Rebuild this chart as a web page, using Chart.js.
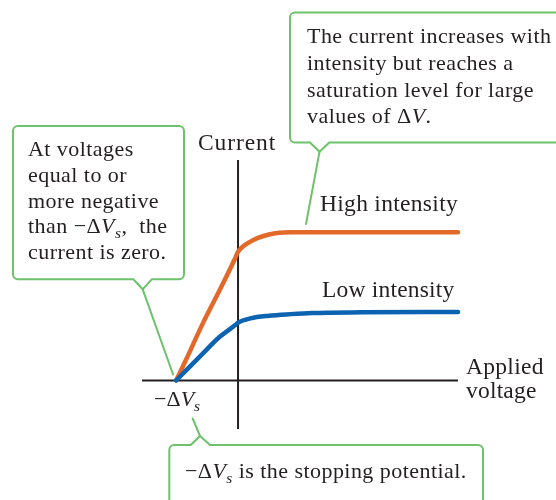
<!DOCTYPE html>
<html>
<head>
<meta charset="utf-8">
<script src="https://cdn.jsdelivr.net/npm/chart.js@4.4.1/dist/chart.umd.min.js"></script>
<style>
  html, body { margin: 0; padding: 0; background: #ffffff; }
  #wrap { position: relative; width: 556px; height: 500px; }
</style>
</head>
<body>
<div id="wrap"><canvas id="c" width="556" height="500"></canvas></div>
<script>
// ---- data ----
const voltage = [-1, -0.83, -0.57, -0.3, -0.05, 0, 0.2, 0.5, 0.85, 1.2, 2.0, 3.55];
const highIntensity = [0, 1.0, 2.58, 4.08, 5.52, 5.84, 6.3, 6.62, 6.72, 6.72, 6.72, 6.72];
const lowIntensity  = [0, 0.48, 1.22, 1.97, 2.5, 2.62, 2.82, 2.94, 3.01, 3.06, 3.09, 3.11];
const xRange = [-1.55, 3.55];
const yRange = [-2.2, 10];
const seriesNames = ['High intensity', 'Low intensity'];
const axisTitles = { y: 'Current', x: ['Applied', 'voltage'] };

const ORANGE = '#E2692A';
const BLUE = '#0B63B2';
const GREEN = '#6DC26B';
const INK = '#231F20';
const FONT = '"Liberation Serif", "Times New Roman", serif';

const toPts = (xs, ys) => xs.map((x, i) => ({ x: x, y: ys[i] }));

function drawRuns(ctx, x, y, runs, size, ls) {
  ctx.save();
  ctx.fillStyle = INK;
  ctx.textBaseline = 'alphabetic';
  ctx.textAlign = 'left';
  ctx.letterSpacing = (ls || 0) + 'px';
  for (const r of runs) {
    const t = r[0], k = r[1] || 'n';
    const sz = k === 's' ? size * 0.7 : size;
    ctx.font = (k === 'i' || k === 's' ? 'italic ' : '') + sz + 'px ' + FONT;
    const dy = k === 's' ? size * 0.22 : 0;
    ctx.fillText(t, x, y + dy);
    x += ctx.measureText(t).width;
  }
  ctx.restore();
}

function callout(ctx, l, t, r, b, rad, notch, target) {
  ctx.save();
  ctx.beginPath();
  ctx.moveTo(l + rad, t);
  if (notch.edge === 'top') {
    ctx.lineTo(notch.x1, t);
    ctx.lineTo(notch.tx, notch.ty);
    ctx.lineTo(notch.x2, t);
  }
  ctx.lineTo(r - rad, t);
  ctx.arcTo(r, t, r, t + rad, rad);
  ctx.lineTo(r, b - rad);
  ctx.arcTo(r, b, r - rad, b, rad);
  if (notch.edge === 'bottom') {
    ctx.lineTo(notch.x2, b);
    ctx.lineTo(notch.tx, notch.ty);
    ctx.lineTo(notch.x1, b);
  }
  ctx.lineTo(l + rad, b);
  ctx.arcTo(l, b, l, b - rad, rad);
  ctx.lineTo(l, t + rad);
  ctx.arcTo(l, t, l + rad, t, rad);
  ctx.closePath();
  ctx.fillStyle = '#ffffff';
  ctx.fill();
  ctx.strokeStyle = GREEN;
  ctx.lineWidth = 2;
  ctx.lineJoin = 'round';
  ctx.stroke();
  ctx.beginPath();
  ctx.moveTo(notch.tx, notch.ty);
  ctx.lineTo(target[0], target[1]);
  ctx.lineCap = 'round';
  ctx.stroke();
  ctx.restore();
}

const annotations = {
  id: 'annotations',
  afterDatasetsDraw(chart) {
    const ctx = chart.ctx;
    const xs = chart.scales.x, ys = chart.scales.y;
    const px = v => xs.getPixelForValue(v);
    const py = v => ys.getPixelForValue(v);

    // axis labels & series labels
    const L = 23.5;
    drawRuns(ctx, 198, 150, [[axisTitles.y]], L, 0.9);
    drawRuns(ctx, 320, 211, [[seriesNames[0]]], L, 0.3);
    drawRuns(ctx, 322, 297, [[seriesNames[1]]], L, 0.2);
    drawRuns(ctx, 466, 374, [[axisTitles.x[0]]], L, 0.3);
    drawRuns(ctx, 466, 398, [[axisTitles.x[1]]], L, 0.2);
    drawRuns(ctx, px(-1) - 22, py(0) + 26, [['\u2212\u0394'], ['V', 'i'], ['s', 's']], 22, 0);

    const S = 22, LS = 0.45;
    // left callout
    callout(ctx, 13, 126, 184, 279.3, 5,
      { edge: 'bottom', x1: 133.3, x2: 151.7, tx: 142.7, ty: 289.3 },
      [px(-1) - 3, py(0) - 6]);
    const lx = 28, ly = 156, st = 25.8;
    drawRuns(ctx, lx, ly, [['At voltages']], S, LS);
    drawRuns(ctx, lx, ly + st, [['equal to or']], S, LS);
    drawRuns(ctx, lx, ly + 2 * st, [['more negative']], S, LS);
    drawRuns(ctx, lx, ly + 3 * st, [['than \u2212\u0394'], ['V', 'i'], ['s', 's'], [',  the']], S, LS);
    drawRuns(ctx, lx, ly + 4 * st, [['current is zero.']], S, LS);

    // top-right callout
    callout(ctx, 290, 12.5, 580, 142.5, 5,
      { edge: 'bottom', x1: 310, x2: 329.3, tx: 319.5, ty: 151.7 },
      [306, 224]);
    const tx = 307, ty = 43.3, ts = 26.7;
    drawRuns(ctx, tx, ty, [['The current increases with']], S, LS);
    drawRuns(ctx, tx, ty + ts, [['intensity but reaches a']], S, LS);
    drawRuns(ctx, tx, ty + 2 * ts, [['saturation level for large']], S, LS);
    drawRuns(ctx, tx, ty + 3 * ts, [['values of \u0394'], ['V', 'i'], ['.']], S, LS);

    // bottom callout
    callout(ctx, 169.3, 445, 483, 530, 5,
      { edge: 'top', x1: 190.7, x2: 210, tx: 200, ty: 436 },
      [192.7, 418.5]);
    drawRuns(ctx, 185, 478, [['\u2212\u0394'], ['V', 'i'], ['s', 's'], [' is the stopping potential.']], S, LS);
  }
};

new Chart(document.getElementById('c'), {
  type: 'line',
  data: {
    datasets: [
      { label: seriesNames[1], data: toPts(voltage, lowIntensity), borderColor: BLUE, borderWidth: 4.5,
        pointRadius: 0, cubicInterpolationMode: 'monotone', fill: false, clip: false, borderCapStyle: 'round' },
      { label: seriesNames[0], data: toPts(voltage, highIntensity), borderColor: ORANGE, borderWidth: 4.5,
        pointRadius: 0, cubicInterpolationMode: 'monotone', fill: false, clip: false, borderCapStyle: 'round' },
      { label: 'x axis', data: [{ x: xRange[0], y: 0 }, { x: xRange[1], y: 0 }], borderColor: INK, borderWidth: 2,
        pointRadius: 0, fill: false, clip: false },
      { label: 'y axis', data: [{ x: 0, y: yRange[0] }, { x: 0, y: yRange[1] }], borderColor: INK, borderWidth: 2,
        pointRadius: 0, fill: false, clip: false }
    ]
  },
  options: {
    responsive: false,
    animation: false,
    devicePixelRatio: 1,
    layout: { padding: { left: 142, right: 98, top: 160, bottom: 71 } },
    plugins: { legend: { display: false }, tooltip: { enabled: false } },
    scales: {
      x: { type: 'linear', min: xRange[0], max: xRange[1], display: false },
      y: { type: 'linear', min: yRange[0], max: yRange[1], display: false }
    }
  },
  plugins: [annotations]
});
</script>
</body>
</html>
